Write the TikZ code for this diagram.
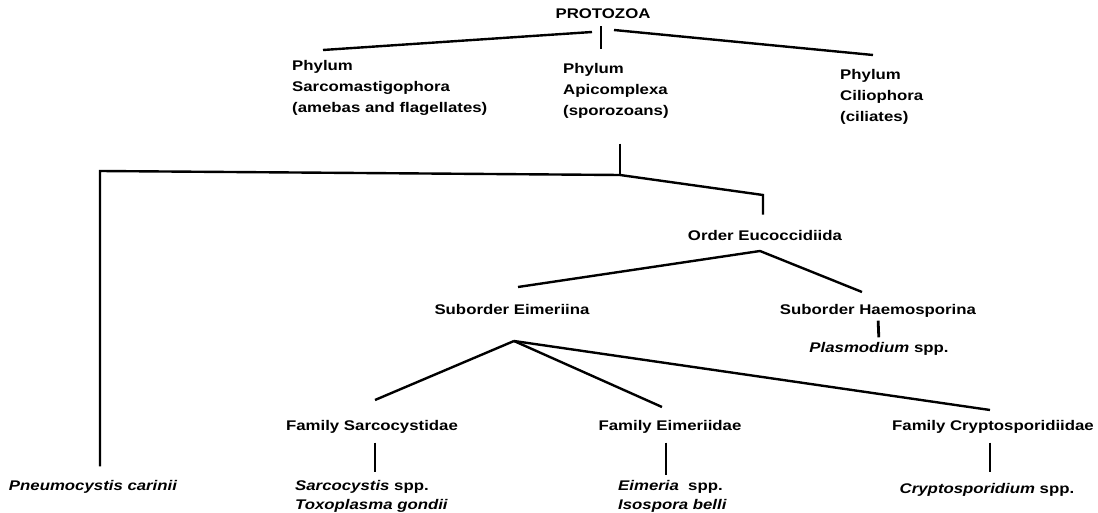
\documentclass[tikz,border=0pt]{standalone}
\usepackage{fontspec}
\setmainfont{Liberation Sans}[FakeStretch=1.2]
\usetikzlibrary{positioning,calc}
\tikzset{
  font={\fontsize{14pt}{21pt}\selectfont}}

\begin{document}
\begin{tikzpicture}[x=1pt,y=-1pt,
    taxon_bold/.style ={inner sep=0pt, font=\fontsize{14pt}{21pt}\selectfont\bfseries},
    taxon_left/.style ={taxon_bold, align=left, anchor=west},
    genus_it/.style ={inner sep=0pt, font=\fontsize{14pt}{19pt}\selectfont\bfseries\itshape},
    genus_left/.style ={genus_it, align=left, anchor=west},
    branch/.style={draw, black, line width=2.4pt},
    stem/.style={draw, black, line width=2.8pt}]
    \useasboundingbox (0,0) rectangle (1098,513);
    % top level
    \node[taxon_bold] (protozoa) at (603,14) {PROTOZOA};
    \node[taxon_left] (sarco) at (292,88) {Phylum\\Sarcomastigophora\\(amebas and flagellates)};
    \node[taxon_left] (apico) at (563,91) {Phylum\\Apicomplexa\\(sporozoans)};
    \node[taxon_left] (cilio) at (840,97) {Phylum\\Ciliophora\\(ciliates)};
    % order and suborders
    \node[taxon_bold] (euco) at (765,235) {Order Eucoccidiida};
    \node[taxon_bold] (eimeriina) at (512,309) {Suborder Eimeriina};
    \node[taxon_bold] (haemo) at (878,311) {Suborder Haemosporina};
    \node[genus_it] (plasmo) at (879,349) {Plasmodium {\upshape spp.}};
    % families
    \node[taxon_bold] (sarcofam) at (372,427) {Family Sarcocystidae};
    \node[taxon_bold] (eimfam) at (670,427) {Family Eimeriidae};
    \node[taxon_bold] (cryptofam) at (993,427) {Family Cryptosporidiidae};
    % genera
    \node[genus_it] (pneumo) at (93,487) {Pneumocystis carinii};
    \node[genus_left] (sarcogen) at (295,496) {Sarcocystis {\upshape spp.}\\Toxoplasma gondii};
    \node[genus_left] (eimgen) at (618,496) {Eimeria\ \ {\upshape spp.}\\Isospora belli};
    \node[genus_it] (cryptogen) at (987,490) {Cryptosporidium {\upshape spp.}};
    % branch points
    \coordinate (pz_stem) at (601,49);
    \coordinate (pz_left_in) at (592,32);
    \coordinate (pz_left_out) at (323,50);
    \coordinate (pz_right_in) at (614,30);
    \coordinate (pz_right_out) at (873,55);
    \coordinate (ap_fork) at (620,175);
    \coordinate (ap_corner) at (100,171);
    \coordinate (euco_bend) at (763,195);
    \coordinate (euco_apex) at (760,251);
    \coordinate (eimeriina_in) at (518,287);
    \coordinate (haemo_in) at (862,292);
    \coordinate (eim_apex) at (514,341);
    \coordinate (sarcofam_in) at (375,400);
    \coordinate (eimfam_in) at (662,407);
    \coordinate (cryptofam_in) at (990,410);
    % connecting the taxa
    \begin{scope}[every path/.style=branch]
      \path[shorten <=7pt](protozoa.south -| pz_stem)--(pz_stem);
      \path(pz_left_in)--(pz_left_out);
      \path(pz_right_in)--(pz_right_out);
      \path[shorten <=25pt](ap_fork |- apico.south)--(ap_fork);
      \path[shorten >=14pt](ap_fork)--(ap_corner)--(pneumo.north -| ap_corner);
      \path[shorten >=15pt](ap_fork)--(euco_bend)--(euco.north -| euco_bend);
      \path(eimeriina_in)--(euco_apex)--(haemo_in);
      \path(eim_apex)--(sarcofam_in);
      \path(eim_apex)--(eimfam_in);
      \path(eim_apex)--(cryptofam_in);
    \end{scope}
    \begin{scope}[every path/.style=stem]
      \path[shorten <=3pt, shorten >=5pt](haemo.south)--(plasmo.north);
      \path[shorten <=9pt, shorten >=8pt](sarcofam.south -| sarcofam_in)--(sarcofam_in |- sarcogen.north);
      \path[shorten <=9pt, shorten >=5pt](eimfam.south -| 666,0)--(666,0 |- eimgen.north);
      \path[shorten <=9pt, shorten >=11pt](cryptofam.south -| cryptofam_in)--(cryptofam_in |- cryptogen.north);
    \end{scope}
  \end{tikzpicture}
\end{document}
